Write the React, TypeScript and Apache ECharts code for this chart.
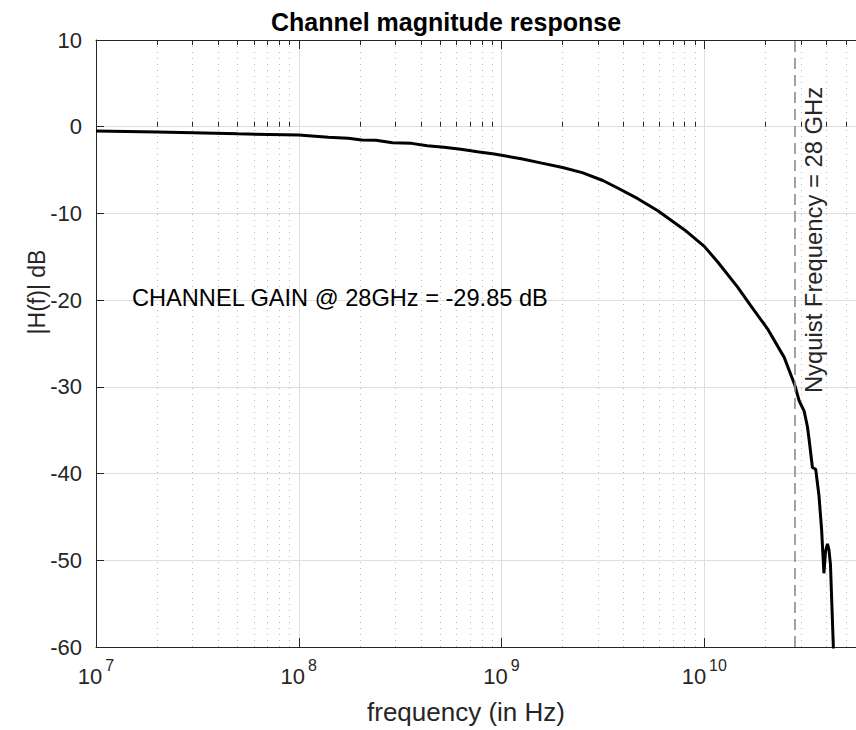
import React, { useEffect, useRef } from "react";
import * as echarts from "echarts";

// Channel magnitude response |H(f)| in dB against frequency (log axis)
const freqHz = [
  1e7, 2e7, 3e7, 5e7, 1e8, 1.4e8, 1.75e8, 2.05e8, 2.4e8, 2.9e8, 3.6e8, 4.3e8,
  5.2e8, 6.3e8, 7.6e8, 9.2e8, 1e9, 1.25e9, 1.58e9, 2e9, 2.5e9, 3.16e9, 3.76e9,
  4.7e9, 5.9e9, 8.0e9, 1.0e10, 1.165e10, 1.46e10, 1.69e10, 2.05e10, 2.478e10,
  2.8e10, 2.936e10, 3.108e10, 3.226e10, 3.289e10, 3.414e10, 3.543e10, 3.68e10,
  3.79e10, 3.85e10, 3.89e10, 3.96e10, 4.05e10, 4.12e10, 4.19e10, 4.33e10,
  4.45e10,
];
const gainDb = [
  -0.49, -0.61, -0.69, -0.82, -0.96, -1.22, -1.34, -1.53, -1.57, -1.84, -1.92,
  -2.19, -2.38, -2.61, -2.88, -3.15, -3.3, -3.7, -4.2, -4.7, -5.3, -6.2, -7.1,
  -8.3, -9.7, -11.9, -13.8, -15.6, -18.5, -20.6, -23.3, -26.6, -29.85, -31.6,
  -32.8, -34.6, -36.1, -39.3, -39.5, -42.6, -46.5, -49.5, -51.5, -49.0, -48.1,
  -48.8, -50.5, -60, -70,
];

const decadeTicks = [1e7, 1e8, 1e9, 1e10];
const minorSteps = [2, 3, 4, 5, 6, 7, 8, 9];
const F_MIN = 1e7;
const F_MAX = 5.6e10;
const DB_MIN = -60;
const DB_MAX = 10;
const DB_STEP = 10;

const NYQUIST_HZ = 28e9;
const NYQUIST_GAIN_DB = -29.85;

const FONT = "'Liberation Sans', Arial, Helvetica, sans-serif";
const AXIS_COLOR = "#262626";
const GRID_COLOR = "#dedede";
const MINOR_GRID_COLOR = "#b8b8b8";

const minorTicks = decadeTicks
  .flatMap((d) => minorSteps.map((m) => m * d))
  .filter((v) => v < F_MAX);

export default function App() {
  const ref = useRef<HTMLDivElement>(null);

  useEffect(() => {
    if (!ref.current) return;
    const chart = echarts.init(ref.current, undefined, { renderer: "svg" });

    const logAxisBase = {
      type: "log" as const,
      logBase: 10,
      min: F_MIN,
      max: F_MAX,
      gridIndex: 0,
    };

    chart.setOption({
      animation: false,
      backgroundColor: "#ffffff",
      title: {
        text: "Channel magnitude response",
        left: 441,
        top: 4,
        textAlign: "center",
        textStyle: {
          fontFamily: FONT,
          fontSize: 25,
          fontWeight: "bold",
          color: "#000000",
        },
      },
      grid: { left: 96, top: 40, width: 763, height: 607 },
      xAxis: [
        {
          ...logAxisBase,
          position: "bottom",
          axisLine: { show: true, onZero: false, lineStyle: { color: AXIS_COLOR, width: 1 } },
          axisTick: {
            show: true,
            inside: true,
            length: 9,
            customValues: decadeTicks,
            lineStyle: { color: AXIS_COLOR },
          },
          axisLabel: {
            show: true,
            customValues: decadeTicks,
            margin: 10,
            formatter: (v: number) => `{b|10}{s|${Math.round(Math.log10(v))}}`,
            rich: {
              b: { fontFamily: FONT, fontSize: 22, color: AXIS_COLOR, verticalAlign: "bottom", lineHeight: 30 },
              s: { fontFamily: FONT, fontSize: 16, color: AXIS_COLOR, verticalAlign: "top", lineHeight: 30, padding: [0, 0, 0, 3] },
            },
          },
          splitLine: { show: true, lineStyle: { color: GRID_COLOR, width: 1 } },
        },
        {
          ...logAxisBase,
          position: "bottom",
          axisLine: { show: false },
          axisTick: {
            show: true,
            inside: true,
            length: 5,
            customValues: minorTicks,
            lineStyle: { color: AXIS_COLOR },
          },
          axisLabel: { show: false },
          splitLine: {
            show: true,
            lineStyle: { color: MINOR_GRID_COLOR, width: 1, type: [1, 5] },
          },
        },
        {
          ...logAxisBase,
          position: "top",
          axisLine: { show: true, onZero: false, lineStyle: { color: AXIS_COLOR, width: 1 } },
          axisTick: {
            show: true,
            inside: true,
            length: 9,
            customValues: decadeTicks,
            lineStyle: { color: AXIS_COLOR },
          },
          axisLabel: { show: false },
          splitLine: { show: false },
        },
        {
          ...logAxisBase,
          position: "top",
          axisLine: { show: false },
          axisTick: {
            show: true,
            inside: true,
            length: 5,
            customValues: minorTicks,
            lineStyle: { color: AXIS_COLOR },
          },
          axisLabel: { show: false },
          splitLine: { show: false },
        },
      ],
      yAxis: [
        {
          type: "value",
          min: DB_MIN,
          max: DB_MAX,
          interval: DB_STEP,
          position: "left",
          axisLine: { show: true, onZero: false, lineStyle: { color: AXIS_COLOR, width: 1 } },
          axisTick: { show: true, inside: true, length: 8, lineStyle: { color: AXIS_COLOR } },
          axisLabel: {
            fontFamily: FONT,
            fontSize: 22,
            color: AXIS_COLOR,
            margin: 14,
          },
          splitLine: { show: true, lineStyle: { color: GRID_COLOR, width: 1 } },
        },
      ],
      series: [
        {
          type: "line",
          xAxisIndex: 0,
          yAxisIndex: 0,
          data: freqHz.map((f, i) => [f, gainDb[i]]),
          showSymbol: false,
          clip: true,
          lineStyle: { color: "#000000", width: 3 },
          markLine: {
            silent: true,
            symbol: "none",
            label: { show: false },
            lineStyle: { color: "#8c8c8c", width: 1.6, type: [11, 6] },
            data: [{ xAxis: NYQUIST_HZ }],
          },
        },
      ],
    });

    const nyqX = chart.convertToPixel({ xAxisIndex: 0 }, NYQUIST_HZ) as number;

    chart.setOption({
      graphic: [
        {
          type: "text",
          x: 132,
          y: 298,
          style: {
            text: `CHANNEL GAIN @ 28GHz = ${NYQUIST_GAIN_DB.toFixed(2)} dB`,
            fontFamily: FONT,
            fontSize: 23.6,
            fill: "#000000",
            align: "left",
            verticalAlign: "middle",
          },
        },
        {
          type: "text",
          x: nyqX + 19,
          y: 240,
          rotation: Math.PI / 2,
          style: {
            text: "Nyquist Frequency = 28 GHz",
            fontFamily: FONT,
            fontSize: 23.8,
            fill: AXIS_COLOR,
            align: "center",
            verticalAlign: "middle",
          },
        },
        {
          type: "text",
          x: 37,
          y: 292,
          rotation: Math.PI / 2,
          style: {
            text: "|H(f)| dB",
            fontFamily: FONT,
            fontSize: 23,
            fill: AXIS_COLOR,
            align: "center",
            verticalAlign: "middle",
          },
        },
        {
          type: "text",
          x: 466,
          y: 712,
          style: {
            text: "frequency (in Hz)",
            fontFamily: FONT,
            fontSize: 26,
            fill: AXIS_COLOR,
            align: "center",
            verticalAlign: "middle",
          },
        },
      ],
    });

    return () => chart.dispose();
  }, []);

  return (
    <div
      ref={ref}
      style={{ position: "absolute", left: 0, top: 0, width: 856, height: 730 }}
    />
  );
}
